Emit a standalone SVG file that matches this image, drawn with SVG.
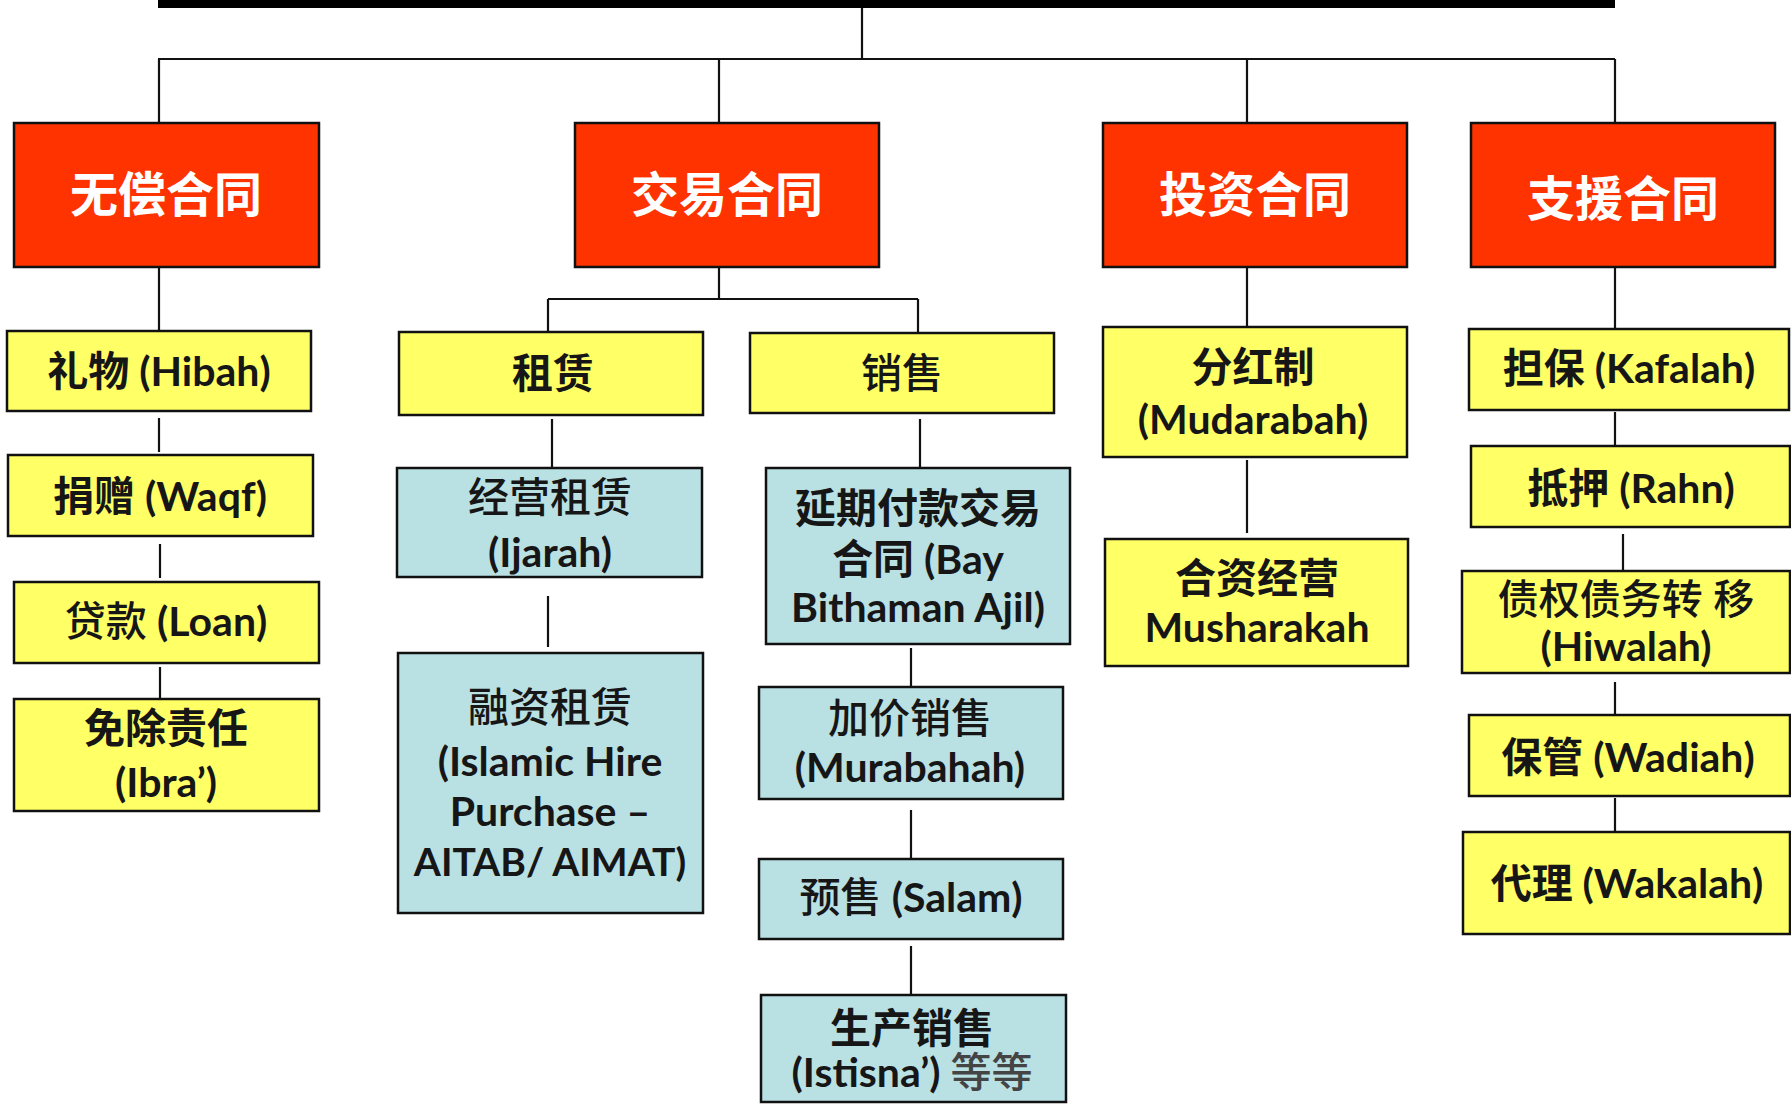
<svg xmlns="http://www.w3.org/2000/svg" width="1791" height="1104" viewBox="0 0 1791 1104">
<style>
  .red{fill:#FF3300;stroke:#111;stroke-width:2.5}
  .yel{fill:#FFFF66;stroke:#111;stroke-width:2.5}
  .blu{fill:#B9E0E3;stroke:#111;stroke-width:2.5}
  .ln{stroke:#111;stroke-width:2.2;fill:none}
  text{font-family:Lato,"Noto Sans CJK SC",sans-serif;text-anchor:middle;fill:#161616;font-size:41px;font-weight:bold}
  .hd{fill:#fff;font-size:48px;font-weight:bold}
  .rg{font-weight:500}
  .gr{fill:#444;font-weight:500}
</style>
<rect width="1791" height="1104" fill="#fff"/>
<g id="connectors">
  <rect x="158" y="0" width="1457" height="8" fill="#000"/>
  <path class="ln" d="M862 8V59M158 59H1615M159 59V123M719 59V123M1247 59V123M1615 59V123"/>
  <path class="ln" d="M159 267V331M159 418V452M160 544V578M160 667V700"/>
  <path class="ln" d="M719 267V299M548 299H918M548 299V332M918 299V333M552 419V469M548 596V647"/>
  <path class="ln" d="M920 419V468M911 648V687M911 810V860M911 946V995"/>
  <path class="ln" d="M1247 267V327M1247 460V533"/>
  <path class="ln" d="M1615 267V329M1615 412V446M1623 534V571M1615 682V715M1615 798V832"/>
</g>
<g id="n_wuchang"><rect class="red" x="14" y="123" width="305" height="144"/><text class="hd" x="166" y="212">无偿合同</text></g>
<g id="n_jiaoyi"><rect class="red" x="575" y="123" width="304" height="144"/><text class="hd" x="727" y="212">交易合同</text></g>
<g id="n_touzi"><rect class="red" x="1103" y="123" width="304" height="144"/><text class="hd" x="1255" y="212">投资合同</text></g>
<g id="n_zhiyuan"><rect class="red" x="1471" y="123" width="304" height="144"/><text class="hd" x="1623" y="216">支援合同</text></g>

<g id="n_hibah"><rect class="yel" x="7" y="331" width="304" height="80"/><text x="159" y="386">礼物 (Hibah)</text></g>
<g id="n_waqf"><rect class="yel" x="8" y="455" width="305" height="81"/><text x="160" y="511">捐赠 (Waqf)</text></g>
<g id="n_loan"><rect class="yel" x="14" y="582" width="305" height="81"/><text x="166" y="636"><tspan class="rg">贷款 </tspan>(Loan)</text></g>
<g id="n_ibra"><rect class="yel" x="14" y="699" width="305" height="112"/><text x="166" y="743">免除责任</text><text x="166" y="797">(Ibra’)</text></g>

<g id="n_zulin"><rect class="yel" x="399" y="332" width="304" height="83"/><text x="553" y="388">租赁</text></g>
<g id="n_xiaoshou"><rect class="yel" x="750" y="333" width="304" height="80"/><text x="902" y="388" class="rg">销售</text></g>
<g id="n_ijarah"><rect class="blu" x="397" y="468" width="305" height="109"/><text x="550" y="512" class="rg">经营租赁</text><text x="550" y="567">(Ijarah)</text></g>
<g id="n_aitab"><rect class="blu" x="398" y="653" width="305" height="260"/><text x="550" y="722" class="rg">融资租赁</text><text x="550" y="776">(Islamic Hire</text><text x="550" y="826">Purchase –</text><text x="550" y="876" style="font-size:39px">AITAB/ AIMAT)</text></g>
<g id="n_bba"><rect class="blu" x="766" y="468" width="304" height="176"/><text x="918" y="523">延期付款交易</text><text x="918" y="574">合同 (Bay</text><text x="918" y="622">Bithaman Ajil)</text></g>
<g id="n_murabahah"><rect class="blu" x="759" y="687" width="304" height="112"/><text x="910" y="733" class="rg">加价销售</text><text x="910" y="782">(Murabahah)</text></g>
<g id="n_salam"><rect class="blu" x="759" y="859" width="304" height="80"/><text x="911" y="912"><tspan class="rg">预售 </tspan>(Salam)</text></g>
<g id="n_istisna"><rect class="blu" x="761" y="995" width="305" height="107"/><text x="912" y="1043">生产销售</text><text x="912" y="1087">(Istisna’) <tspan class="gr">等等</tspan></text></g>

<g id="n_mudarabah"><rect class="yel" x="1103" y="327" width="304" height="130"/><text x="1253" y="382">分红制</text><text x="1253" y="434">(Mudarabah)</text></g>
<g id="n_musharakah"><rect class="yel" x="1105" y="539" width="303" height="127"/><text x="1257" y="593">合资经营</text><text x="1257" y="642">Musharakah</text></g>

<g id="n_kafalah"><rect class="yel" x="1469" y="329" width="320" height="81"/><text x="1629" y="383">担保 (Kafalah)</text></g>
<g id="n_rahn"><rect class="yel" x="1471" y="446" width="319" height="81"/><text x="1631" y="503">抵押 (Rahn)</text></g>
<g id="n_hiwalah"><rect class="yel" x="1462" y="571" width="328" height="102"/><text x="1626" y="614" class="rg">债权债务转 移</text><text x="1626" y="661">(Hiwalah)</text></g>
<g id="n_wadiah"><rect class="yel" x="1469" y="715" width="321" height="81"/><text x="1628" y="772">保管 (Wadiah)</text></g>
<g id="n_wakalah"><rect class="yel" x="1463" y="832" width="327" height="102"/><text x="1627" y="898">代理 (Wakalah)</text></g>
</svg>
